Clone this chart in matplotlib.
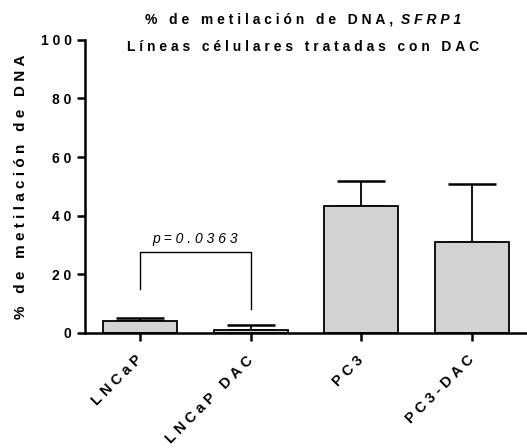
import matplotlib
matplotlib.use("Agg")
import matplotlib.pyplot as plt

plt.rcParams['font.family'] = ['Liberation Sans', 'DejaVu Sans']

grupos = ["LNCaP", "LNCaP DAC", "PC3", "PC3-DAC"]
metilacion = [4.1, 1.0, 43.3, 31.0]
error_sup = [0.9, 1.8, 8.7, 19.8]
p_texto = "p=0.0363"
bracket_izq = 15.0
bracket_der = 8.0
bracket_top = 27.5
yticks = [0, 20, 40, 60, 80, 100]

SP = "\u2009\u200a"
FS = 10


def espaciar(s):
    # GraphPad usa mucho espaciado entre letras
    return SP.join(s)


fig = plt.figure(figsize=(5.27, 4.48), dpi=100)
ax = fig.add_axes([0.161, 0.257, 0.839, 0.654])

x = list(range(len(grupos)))
ax.bar(x, metilacion, width=0.67, color="#d3d3d3", edgecolor="black",
       linewidth=1.3, zorder=2)
ax.errorbar(x, metilacion, yerr=[[0] * len(x), error_sup], fmt="none",
            ecolor="black", elinewidth=1.3, capsize=17, capthick=1.8, zorder=1)

# bracket de significancia
ax.plot([0, 0, 1, 1], [bracket_izq, bracket_top, bracket_top, bracket_der],
        color="black", lw=1.0)
ax.text(0.5, bracket_top + 2, espaciar(p_texto), ha="center", va="bottom",
        style="italic", fontsize=FS)

ax.set_xlim(-0.5, 3.5)
ax.set_ylim(0, 100)
ax.set_yticks(yticks)
ax.set_yticklabels([espaciar(str(t)) for t in yticks], fontsize=FS,
                   fontweight="bold")
ax.set_xticks(x)
ax.set_xticklabels([espaciar(g) for g in grupos], rotation=45, ha="right",
                   va="center", rotation_mode="anchor", fontsize=FS + 0.5,
                   fontweight="bold")
ax.tick_params(axis="both", width=1.8, length=6, direction="out")
ax.tick_params(axis="x", pad=12)
for s in ["top", "right"]:
    ax.spines[s].set_visible(False)
for s in ["left", "bottom"]:
    ax.spines[s].set_linewidth(1.8)

ax.set_ylabel(espaciar("% de metilación de DNA"), fontsize=FS + 1,
              fontweight="bold", labelpad=9)

# titulo en dos lineas, SFRP1 en cursiva
cx = 0.575
y1 = 1 - 20 / 448
t1 = fig.text(0, y1, espaciar("% de metilación de DNA, "),
              ha="left", va="center", fontsize=FS, fontweight="bold")
t2 = fig.text(0, y1, espaciar("SFRP1"), ha="left", va="center", fontsize=FS,
              fontweight="bold", style="italic")
fig.canvas.draw()
w1 = t1.get_window_extent().width / fig.dpi / fig.get_figwidth()
w2 = t2.get_window_extent().width / fig.dpi / fig.get_figwidth()
x0 = cx - (w1 + w2) / 2
t1.set_x(x0)
t2.set_x(x0 + w1)
fig.text(cx, 1 - 47 / 448, espaciar("Líneas célulares tratadas con DAC"),
         ha="center", va="center", fontsize=FS, fontweight="bold")

fig.savefig("out.png", dpi=100)
